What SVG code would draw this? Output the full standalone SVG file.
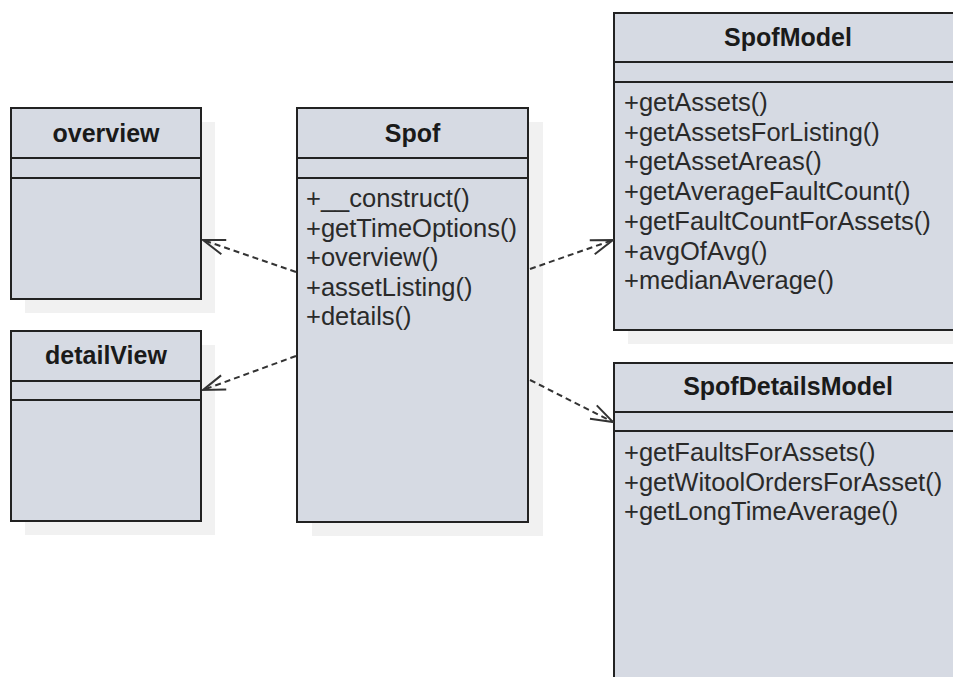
<svg xmlns="http://www.w3.org/2000/svg" width="953" height="677" viewBox="0 0 953 677">
  <style>
    .shadow { fill: #f1f1f1; stroke: none; }
    .box { fill: #d6dae3; stroke: #222222; stroke-width: 2; }
    .sep { stroke: #222222; stroke-width: 2; }
    .title { font-family: "Liberation Sans", Arial, sans-serif; font-weight: bold; font-size: 25px; fill: #1a1a1a; text-anchor: middle; }
    .member { font-family: "Liberation Sans", Arial, sans-serif; font-size: 25.5px; fill: #2a2a2a; }
    .dep { fill: none; stroke: #333333; stroke-width: 2; stroke-dasharray: 6 4; marker-end: url(#open); }
  </style>
  <defs>
    <marker id="open" viewBox="0 0 24 18" refX="23" refY="9" markerWidth="24" markerHeight="18" markerUnits="userSpaceOnUse" orient="auto">
      <path d="M1,1.5 L23,9 L1,16.5" fill="none" stroke="#333333" stroke-width="2" stroke-dasharray="none"/>
    </marker>
  </defs>
  <rect width="953" height="677" fill="#ffffff"/>

  <g id="overview">
    <rect class="shadow" x="25" y="122" width="190" height="191"/>
    <rect class="box" x="11" y="108" width="190" height="191"/>
    <line class="sep" x1="11" y1="158" x2="201" y2="158"/>
    <line class="sep" x1="11" y1="178" x2="201" y2="178"/>
    <text class="title" x="106" y="142">overview</text>
  </g>

  <g id="detailView">
    <rect class="shadow" x="25" y="345" width="190" height="190"/>
    <rect class="box" x="11" y="331" width="190" height="190"/>
    <line class="sep" x1="11" y1="381" x2="201" y2="381"/>
    <line class="sep" x1="11" y1="400" x2="201" y2="400"/>
    <text class="title" x="106" y="364">detailView</text>
  </g>

  <g id="Spof">
    <rect class="shadow" x="312" y="122" width="231" height="414"/>
    <rect class="box" x="297" y="108" width="231" height="414"/>
    <line class="sep" x1="297" y1="158" x2="528" y2="158"/>
    <line class="sep" x1="297" y1="178" x2="528" y2="178"/>
    <text class="title" x="412.5" y="142">Spof</text>
    <text class="member" x="306" y="207">+__construct()</text>
    <text class="member" x="306" y="236.5">+getTimeOptions()</text>
    <text class="member" x="306" y="266">+overview()</text>
    <text class="member" x="306" y="295.5">+assetListing()</text>
    <text class="member" x="306" y="325">+details()</text>
  </g>

  <g id="SpofModel">
    <rect class="shadow" x="628" y="27" width="348" height="317"/>
    <rect class="box" x="614" y="13" width="348" height="317"/>
    <line class="sep" x1="614" y1="62" x2="962" y2="62"/>
    <line class="sep" x1="614" y1="82" x2="962" y2="82"/>
    <text class="title" x="788" y="46">SpofModel</text>
    <text class="member" x="624" y="111">+getAssets()</text>
    <text class="member" x="624" y="140.7">+getAssetsForListing()</text>
    <text class="member" x="624" y="170.4">+getAssetAreas()</text>
    <text class="member" x="624" y="200.1">+getAverageFaultCount()</text>
    <text class="member" x="624" y="229.8">+getFaultCountForAssets()</text>
    <text class="member" x="624" y="259.5">+avgOfAvg()</text>
    <text class="member" x="624" y="289.2">+medianAverage()</text>
  </g>

  <g id="SpofDetailsModel">
    <rect class="shadow" x="628" y="377" width="348" height="330"/>
    <rect class="box" x="614" y="363" width="348" height="330"/>
    <line class="sep" x1="614" y1="412" x2="962" y2="412"/>
    <line class="sep" x1="614" y1="431" x2="962" y2="431"/>
    <text class="title" x="788" y="395">SpofDetailsModel</text>
    <text class="member" x="624" y="461">+getFaultsForAssets()</text>
    <text class="member" x="624" y="490.7">+getWitoolOrdersForAsset()</text>
    <text class="member" x="624" y="520.4">+getLongTimeAverage()</text>
  </g>

  <g id="connectors">
    <path class="dep" d="M296,272 L203,240"/>
    <path class="dep" d="M296,356 L203,390"/>
    <path class="dep" d="M530,269 L613,240"/>
    <path class="dep" d="M530,380 L613,422"/>
  </g>
</svg>
